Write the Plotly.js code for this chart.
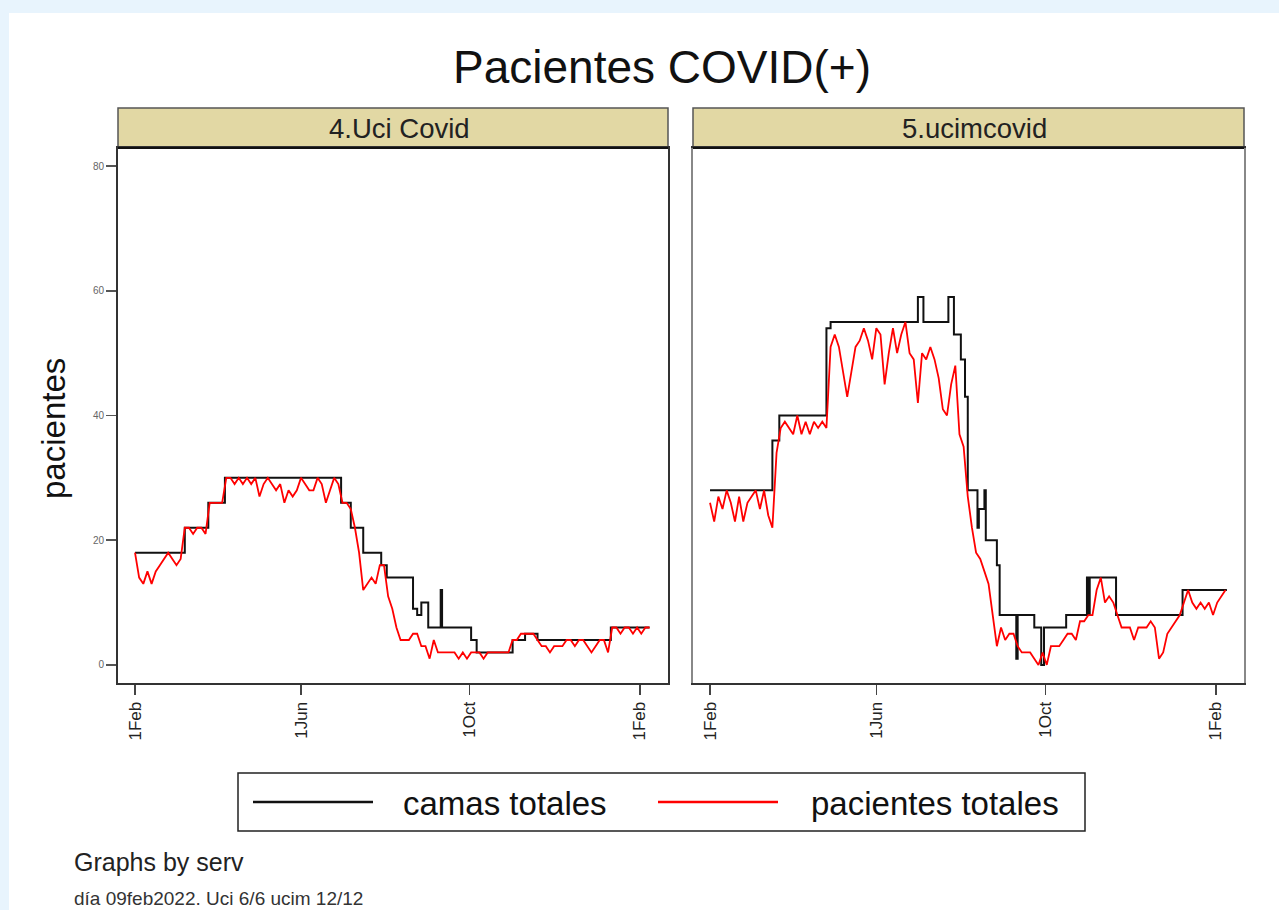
<!DOCTYPE html>
<html>
<head>
<meta charset="utf-8">
<script src="https://cdn.plot.ly/plotly-3.0.1.min.js"></script>
<style>
  html, body { margin: 0; padding: 0; background: #e8f4fd; width: 1279px; height: 910px; overflow: hidden; }
  #chart { position: absolute; left: 9px; top: 13px; width: 1270px; height: 897px; background: #fff; }
</style>
</head>
<body>
<div id="chart"></div>
<script>
// ---------- DATA ----------
const panels = ['4.Uci Covid', '5.ucimcovid'];
const seriesNames = ['camas totales', 'pacientes totales'];
const xTickVals = ['2021-02-01', '2021-06-01', '2021-10-01', '2022-02-01'];
const xTickText = ['1Feb', '1Jun', '1Oct', '1Feb'];
const yTickVals = [0, 20, 40, 60, 80];

// pacientes totales: one reading every 3 days starting 1 Feb 2021
const pacStart = '2021-02-01';
const pacStepDays = 3;
const pacUci = [
  18,14,13,15,13,15,16,17,18,17,
  16,17,22,22,21,22,22,21,26,26,
  26,26,30,30,29,30,29,30,29,30,
  27,29,30,29,28,29,26,28,27,28,
  30,29,28,28,30,29,26,28,30,29,
  26,26,25,22,18,12,13,14,13,16,
  16,11,9,6,4,4,4,5,5,3,
  3,1,4,2,2,2,2,2,1,2,
  1,2,2,2,1,2,2,2,2,2,
  2,4,4,5,5,5,5,4,3,3,
  2,3,3,3,4,4,3,4,4,3,
  2,3,4,4,2,6,6,5,6,6,
  5,6,5,6,6
];
const pacUcim = [
  26,23,27,25,28,26,23,27,23,26,
  27,28,25,28,24,22,34,38,39,38,
  37,40,37,39,37,39,38,39,38,51,
  53,51,47,43,47,51,52,54,52,49,
  54,53,45,50,54,50,53,55,50,49,
  42,50,49,51,49,46,41,40,45,48,
  37,35,27,22,18,17,15,13,8,3,
  6,4,5,5,3,2,2,2,1,0,
  2,0,3,3,3,4,5,5,4,7,
  7,8,8,12,14,10,11,10,8,6,
  6,6,4,6,6,6,7,6,1,2,
  5,6,7,8,10,12,10,9,10,9,
  10,8,10,11,12
];

// camas totales: step series (date of change, value)
const camasUciDates = ['2021-02-01','2021-03-09','2021-03-26','2021-04-07','2021-06-30','2021-07-07','2021-07-16','2021-07-29','2021-08-02','2021-08-21','2021-08-24','2021-08-27','2021-09-01','2021-09-10','2021-09-11','2021-10-02','2021-10-06','2021-11-01','2021-11-10','2021-11-19','2022-01-11','2022-02-08'];
const camasUciVals  = [18,22,26,30,26,22,18,16,14,9,8,10,6,12,6,4,2,4,5,4,6,6];

const camasUcimDates = ['2021-02-01','2021-03-18','2021-03-23','2021-04-26','2021-04-29','2021-07-01','2021-07-05','2021-07-23','2021-07-27','2021-08-01','2021-08-04','2021-08-06','2021-08-13','2021-08-14','2021-08-18','2021-08-19','2021-08-27','2021-08-29','2021-09-10','2021-09-11','2021-09-23','2021-09-28','2021-09-30','2021-10-16','2021-10-31','2021-11-01','2021-11-02','2021-11-21','2022-01-08','2022-02-09'];
const camasUcimVals  = [28,36,40,54,55,59,55,59,53,49,43,28,22,25,28,20,16,8,1,8,6,0,6,8,14,8,14,8,12,12];

// ---------- BUILD ----------
function addDays(iso, n) {
  const d = new Date(iso + 'T00:00:00Z');
  d.setUTCDate(d.getUTCDate() + n);
  return d.toISOString().slice(0, 10);
}
const pacDates = (arr) => arr.map((_, i) => addDays(pacStart, i * pacStepDays));

const FONT = 'Liberation Sans, Arial, Helvetica, sans-serif';
const BLACK = '#111111';
const RED = '#ff0000';

const traces = [
  { x: camasUciDates, y: camasUciVals, type: 'scatter', mode: 'lines', line: { color: BLACK, width: 2, shape: 'hv' }, name: seriesNames[0], xaxis: 'x', yaxis: 'y' },
  { x: pacDates(pacUci), y: pacUci, type: 'scatter', mode: 'lines', line: { color: RED, width: 1.8 }, name: seriesNames[1], xaxis: 'x', yaxis: 'y' },
  { x: camasUcimDates, y: camasUcimVals, type: 'scatter', mode: 'lines', line: { color: BLACK, width: 2, shape: 'hv' }, name: seriesNames[0], xaxis: 'x2', yaxis: 'y2' },
  { x: pacDates(pacUcim), y: pacUcim, type: 'scatter', mode: 'lines', line: { color: RED, width: 1.8 }, name: seriesNames[1], xaxis: 'x2', yaxis: 'y2' }
];

const W = 1270, H = 897;
const px = (v) => v / W;
const py = (v) => (H - v) / H;

const dLeft = [px(109), px(659)];
const dRight = [px(684), px(1235)];
const yDom = [py(670), py(135)];
const xRange = ['2021-01-19 17:00', '2022-02-21 08:00'];
const yRange = [-2.9, 82.9];

function xAxis(domain, anchor) {
  return {
    domain: domain, anchor: anchor, type: 'date', range: xRange,
    tickmode: 'array', tickvals: xTickVals, ticktext: xTickText, tickangle: -90,
    ticks: 'outside', ticklen: 10, tickwidth: 1.5, tickcolor: '#444',
    tickfont: { family: FONT, size: 17, color: '#222' },
    showgrid: false, zeroline: false, showline: true, linecolor: '#333', linewidth: 2, mirror: true
  };
}
function yAxis(anchor, labels) {
  return {
    domain: yDom, anchor: anchor, range: yRange,
    tickmode: 'array', tickvals: yTickVals,
    ticks: labels ? 'outside' : '', ticklen: 10, tickwidth: 1.5, tickcolor: '#555',
    showticklabels: labels,
    tickfont: { family: FONT, size: 10, color: '#666' },
    showgrid: false, zeroline: false, showline: true, linecolor: labels ? '#333' : '#888', linewidth: 2, mirror: true
  };
}

const HEADER = '#e2d8a4';
const shapes = [];
const annotations = [];
[dLeft, dRight].forEach((d, i) => {
  shapes.push({ type: 'rect', xref: 'paper', yref: 'paper', x0: d[0], x1: d[1], y0: py(135), y1: py(95), fillcolor: HEADER, line: { color: '#555', width: 1.5 }, layer: 'below' });
  shapes.push({ type: 'line', xref: 'paper', yref: 'paper', x0: d[0], x1: d[1], y0: py(135), y1: py(135), line: { color: '#111', width: 2 } });
  annotations.push({ xref: 'paper', yref: 'paper', x: (d[0] + d[1]) / 2 + px(6), y: py(116), text: panels[i], showarrow: false, xanchor: 'center', yanchor: 'middle', font: { family: FONT, size: 27.5, color: '#222' } });
});

// legend
shapes.push({ type: 'rect', xref: 'paper', yref: 'paper', x0: px(229), x1: px(1076), y0: py(818), y1: py(760), line: { color: '#222', width: 1.5 }, fillcolor: 'rgba(0,0,0,0)' });
shapes.push({ type: 'line', xref: 'paper', yref: 'paper', x0: px(244), x1: px(364), y0: py(789), y1: py(789), line: { color: BLACK, width: 2.5 } });
shapes.push({ type: 'line', xref: 'paper', yref: 'paper', x0: px(649), x1: px(769), y0: py(789), y1: py(789), line: { color: RED, width: 2.5 } });
annotations.push({ xref: 'paper', yref: 'paper', x: px(392), y: py(790), text: seriesNames[0], showarrow: false, xanchor: 'left', yanchor: 'middle', font: { family: FONT, size: 33, color: '#111' } });
annotations.push({ xref: 'paper', yref: 'paper', x: px(800), y: py(790), text: seriesNames[1], showarrow: false, xanchor: 'left', yanchor: 'middle', font: { family: FONT, size: 33, color: '#111' } });

// title, y title, notes
annotations.push({ xref: 'paper', yref: 'paper', x: px(653), y: py(54), text: 'Pacientes COVID(+)', showarrow: false, xanchor: 'center', yanchor: 'middle', font: { family: FONT, size: 46, color: '#111' } });
annotations.push({ xref: 'paper', yref: 'paper', x: px(45), y: py(416), text: 'pacientes', textangle: -90, showarrow: false, xanchor: 'center', yanchor: 'middle', font: { family: FONT, size: 33, color: '#111' } });
annotations.push({ xref: 'paper', yref: 'paper', x: px(63), y: py(849), text: 'Graphs by serv', showarrow: false, xanchor: 'left', yanchor: 'middle', font: { family: FONT, size: 25, color: '#222' } });
annotations.push({ xref: 'paper', yref: 'paper', x: px(63), y: py(885), text: 'día 09feb2022. Uci 6/6 ucim 12/12', showarrow: false, xanchor: 'left', yanchor: 'middle', font: { family: FONT, size: 19, color: '#333' } });

const layout = {
  width: W, height: H,
  margin: { l: 0, r: 0, t: 0, b: 0, pad: 0 },
  paper_bgcolor: '#ffffff', plot_bgcolor: '#ffffff',
  showlegend: false,
  font: { family: FONT, color: '#222' },
  xaxis: xAxis(dLeft, 'y'),
  yaxis: yAxis('x', true),
  xaxis2: xAxis(dRight, 'y2'),
  yaxis2: yAxis('x2', false),
  shapes: shapes,
  annotations: annotations
};

Plotly.newPlot('chart', traces, layout, { displayModeBar: false, staticPlot: true });
</script>
</body>
</html>
